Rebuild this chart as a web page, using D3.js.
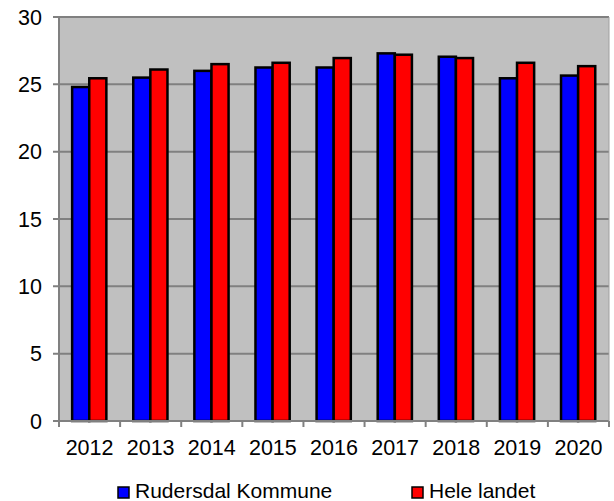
<!DOCTYPE html>
<html><head><meta charset="utf-8">
<script src="https://cdn.jsdelivr.net/npm/d3@7"></script>
<style>body{margin:0;background:#fff}svg{display:block;font-family:"Liberation Sans",Arial,sans-serif}</style>
</head><body><svg id="c" width="614" height="501"></svg>
<script>
const years = ["2012","2013","2014","2015","2016","2017","2018","2019","2020"];
const rudersdal = [24.8, 25.5, 26.0, 26.25, 26.25, 27.3, 27.05, 25.45, 25.65];
const heleLandet = [25.45, 26.1, 26.5, 26.6, 26.95, 27.2, 26.95, 26.6, 26.35];
const seriesNames = ["Rudersdal Kommune", "Hele landet"];
const seriesColors = ["#0000ff", "#ff0000"];
const yTicks = [0, 5, 10, 15, 20, 25, 30];

const svg = d3.select("#c");
const L = 59, R = 609, T = 17, B = 421;
const x = d3.scaleBand().domain(years).range([L, R]).paddingInner(0).paddingOuter(0);
const y = d3.scaleLinear().domain([0, 30]).range([B, T]);
const bw = x.bandwidth();
const inner = d3.scaleBand().domain([0, 1]).range([bw * 0.215, bw * 0.775]).paddingInner(0).paddingOuter(0);

// background
svg.append("rect").attr("x", L).attr("y", T).attr("width", R - L).attr("height", B - T).attr("fill", "#c0c0c0");
// gridlines
svg.append("g").selectAll("line").data(yTicks.filter(d => d > 0)).join("line")
  .attr("x1", L - 6).attr("x2", R).attr("y1", d => y(d)).attr("y2", d => y(d))
  .attr("stroke", "#808080").attr("stroke-width", 2);

// bars
const data = years.map((yr, i) => ({yr, vals: [rudersdal[i], heleLandet[i]]}));
const g = svg.append("g").selectAll("g").data(data).join("g").attr("transform", d => `translate(${x(d.yr)},0)`);
g.selectAll("rect").data(d => d.vals.map((v, k) => ({v, k}))).join("rect")
  .attr("x", d => inner(d.k)).attr("width", inner.bandwidth())
  .attr("y", d => y(d.v)).attr("height", d => y(0) - y(d.v))
  .attr("fill", d => seriesColors[d.k]).attr("stroke", "#000").attr("stroke-width", 2.5);

// axes lines
svg.append("line").attr("x1", L).attr("x2", L).attr("y1", T - 1).attr("y2", B).attr("stroke", "#808080").attr("stroke-width", 2);
svg.append("line").attr("x1", L - 6).attr("x2", R).attr("y1", B).attr("y2", B).attr("stroke", "#808080").attr("stroke-width", 2);
svg.append("line").attr("x1", R).attr("x2", R).attr("y1", T).attr("y2", B).attr("stroke", "#a0a0a0").attr("stroke-width", 1);

// y tick labels
svg.append("g").selectAll("text").data(yTicks).join("text")
  .attr("x", 42).attr("y", d => y(d) + 7.5).attr("text-anchor", "end")
  .attr("font-size", 21.5).attr("fill", "#000").text(d => d);
// x ticks
const xb = years.map(d => x(d)).concat([R]);
svg.append("g").selectAll("line").data(xb).join("line")
  .attr("x1", d => d).attr("x2", d => d).attr("y1", B).attr("y2", B + 6)
  .attr("stroke", "#808080").attr("stroke-width", 2);
svg.append("g").selectAll("text").data(years).join("text")
  .attr("x", d => x(d) + bw / 2).attr("y", 455).attr("text-anchor", "middle")
  .attr("font-size", 21.5).attr("fill", "#000").text(d => d);

// legend
const legX = [118, 412];
const lg = svg.append("g").selectAll("g").data(seriesNames).join("g")
  .attr("transform", (d, i) => `translate(${legX[i]},487)`);
lg.append("rect").attr("x", 0).attr("y", 0).attr("width", 11).attr("height", 11)
  .attr("fill", (d, i) => seriesColors[i]).attr("stroke", "#000").attr("stroke-width", 1.5);
lg.append("text").attr("x", 17).attr("y", 11).attr("font-size", 21).attr("fill", "#000").text(d => d);
</script></body></html>
